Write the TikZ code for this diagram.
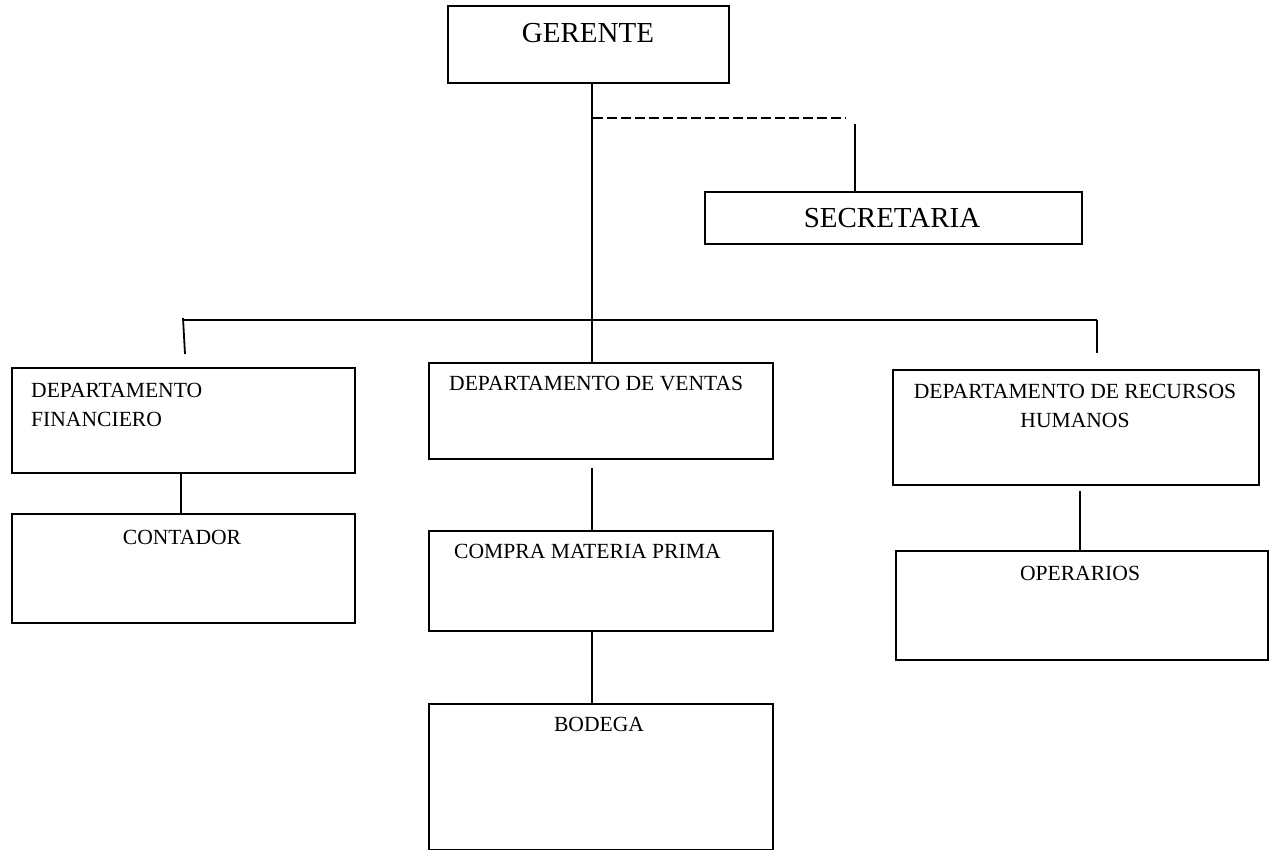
\documentclass[tikz,border=0pt]{standalone}
\usepackage{fontspec}
\setmainfont{Liberation Serif}
\begin{document}
\begin{tikzpicture}[x=1pt,y=-1pt,
  box/.style={draw=black, line width=1.8pt, fill=white, inner sep=0pt,
              anchor=north west, rectangle},
  bigtxt/.style={inner sep=0pt, font=\fontsize{29}{33}\selectfont},
  smalltxt/.style={inner sep=0pt, font=\fontsize{21.6}{26}\selectfont},
  link/.style={line width=1.8pt, draw=black},
  dlink/.style={line width=1.8pt, draw=black, dash pattern=on 10pt off 4pt}]
  \fill[white] (0,0) rectangle (1271,850);
  \useasboundingbox (0,0) rectangle (1271,850);

  % boxes
  \node[box, minimum width=281pt, minimum height=77pt]  (ger) at (447,5)   {};
  \node[box, minimum width=377pt, minimum height=52pt]  (sec) at (704,191) {};
  \node[box, minimum width=343pt, minimum height=105pt] (fin) at (11,367)  {};
  \node[box, minimum width=344pt, minimum height=96pt]  (ven) at (428,362) {};
  \node[box, minimum width=366pt, minimum height=115pt] (rh)  at (892,369) {};
  \node[box, minimum width=343pt, minimum height=109pt] (con) at (11,513)  {};
  \node[box, minimum width=344pt, minimum height=100pt] (com) at (428,530) {};
  \node[box, minimum width=344pt, minimum height=146pt] (bod) at (428,703) {};
  \node[box, minimum width=372pt, minimum height=109pt] (ope) at (895,550) {};

  % labels
  \node[bigtxt, anchor=base] (gerT) at (588,43)  {GERENTE};
  \node[bigtxt, anchor=base] (secT) at (892,228) {SECRETARIA};
  \node[smalltxt, anchor=base west] (finT1) at (31,397) {DEPARTAMENTO};
  \node[smalltxt, anchor=base west] (finT2) at (31,426) {FINANCIERO};
  \node[smalltxt, anchor=base west] (venT) at (449,390) {DEPARTAMENTO DE VENTAS};
  \node[smalltxt, anchor=base] (rhT1) at (1075,398) {DEPARTAMENTO DE RECURSOS};
  \node[smalltxt, anchor=base] (rhT2) at (1075,427) {HUMANOS};
  \node[smalltxt, anchor=base] (conT) at (182,544) {CONTADOR};
  \node[smalltxt, anchor=base west] (comT) at (454,558) {COMPRA MATERIA PRIMA};
  \node[smalltxt, anchor=base] (bodT) at (599,731) {BODEGA};
  \node[smalltxt, anchor=base] (opeT) at (1080,580) {OPERARIOS};

  % junction points
  \coordinate (trunk) at (592,320);
  \coordinate (barL) at (184,320);
  \coordinate (barR) at (1097,320);
  \coordinate (tickL) at (185,354);
  \coordinate (tickR) at (1097,353);
  \coordinate (dashS) at (593,118);
  \coordinate (dashE) at (846,118);
  \coordinate (secTop) at (855,124);
  \coordinate (venLow) at (592,468);
  \coordinate (rhLow) at (1080,491);

  % connectors
  \draw[link] (ger.south -| trunk) -- (ven.north -| trunk);
  \draw[link] (barL) -- (barR);
  \draw[link] (183,318) -- (tickL);
  \draw[link] (barR) -- (tickR);
  \draw[dlink] (dashS) -- (dashE);
  \draw[link] (secTop) -- (sec.north -| secTop);
  \draw[link] (fin.south -| 181,0) -- (con.north -| 181,0);
  \draw[link] (venLow) -- (com.north -| venLow);
  \draw[link] (com.south -| trunk) -- (bod.north -| trunk);
  \draw[link] (rhLow) -- (ope.north -| rhLow);
\end{tikzpicture}
\end{document}
